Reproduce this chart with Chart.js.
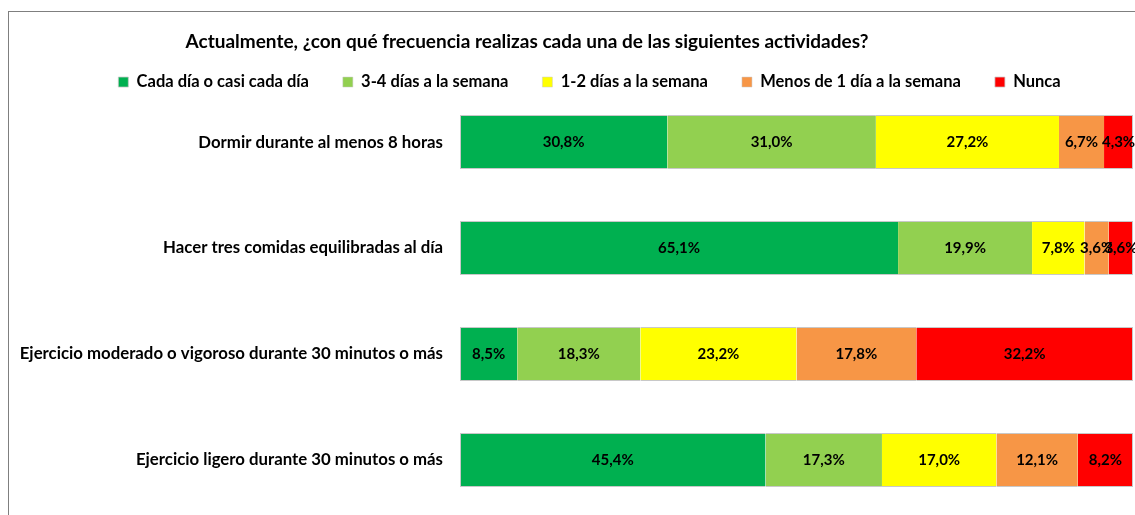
<!DOCTYPE html>
<html>
<head>
<meta charset="utf-8">
<script src="https://cdn.jsdelivr.net/npm/chart.js@4/dist/chart.umd.min.js"></script>
<style>
  html, body { margin: 0; padding: 0; background: #fff; }
  #wrap { position: relative; width: 1135px; height: 515px; }
  #frame { position: absolute; left: 8px; top: 11px; right: 0; bottom: 0; border-top: 1px solid #7f7f7f; border-left: 1px solid #7f7f7f; pointer-events: none; }
  canvas { position: absolute; left: 0; top: 0; }
</style>
</head>
<body>
<div id="wrap">
  <canvas id="c" width="1135" height="515"></canvas>
  <div id="frame"></div>
</div>
<script>
const titleText = 'Actualmente, ¿con qué frecuencia realizas cada una de las siguientes actividades?';
const categories = [
  'Dormir durante al menos 8 horas',
  'Hacer tres comidas equilibradas al día',
  'Ejercicio moderado o vigoroso durante 30 minutos o más',
  'Ejercicio ligero durante 30 minutos o más'
];
const seriesNames = ['Cada día o casi cada día', '3-4 días a la semana', '1-2 días a la semana', 'Menos de 1 día a la semana', 'Nunca'];
const cadaDia    = [30.8, 65.1, 8.5, 45.4];
const tresCuatro = [31.0, 19.9, 18.3, 17.3];
const unoDos     = [27.2, 7.8, 23.2, 17.0];
const menosUno   = [6.7, 3.6, 17.8, 12.1];
const nunca      = [4.3, 3.6, 32.2, 8.2];
const seriesValues = [cadaDia, tresCuatro, unoDos, menosUno, nunca];
const colors = ['#00B050', '#92D050', '#FFFF00', '#F79646', '#FF0000'];

const FONT = 'Lato, "Open Sans", sans-serif';

const datasets = seriesValues.map((vals, i) => ({
  label: seriesNames[i],
  data: vals,
  backgroundColor: colors[i],
  borderColor: '#c8c8c8',
  borderSkipped: false,
  borderWidth: {
    top: 1, bottom: 1,
    left: i === 0 ? 1 : 0,
    right: i === seriesValues.length - 1 ? 1 : 0
  },
  barPercentage: 0.51,
  categoryPercentage: 1.0
}));

const valueLabels = {
  id: 'valueLabels',
  afterDatasetsDraw(chart) {
    const ctx = chart.ctx;
    ctx.save();
    ctx.font = 'bold 15px ' + FONT;
    ctx.fillStyle = '#000';
    ctx.textAlign = 'center';
    ctx.textBaseline = 'middle';
    chart.data.datasets.forEach((ds, di) => {
      const meta = chart.getDatasetMeta(di);
      meta.data.forEach((bar, idx) => {
        const v = ds.data[idx];
        const p = bar.getProps(['x', 'y', 'base'], true);
        const cx = (p.x + p.base) / 2;
        ctx.fillText(v.toFixed(1).replace('.', ',') + '%', cx, p.y);
      });
    });
    ctx.restore();
  }
};

// shift the title and legend blocks horizontally to match the original's centring
const headerShift = {
  id: 'headerShift',
  afterLayout(chart) {
    if (chart.titleBlock) {
      chart.titleBlock.left = 0;
      chart.titleBlock.right = 1054;
    }
    if (chart.legend) {
      chart.legend.left += 23;
      chart.legend.right += 23;
    }
  }
};

new Chart(document.getElementById('c'), {
  type: 'bar',
  data: { labels: categories, datasets },
  options: {
    indexAxis: 'y',
    responsive: false,
    animation: false,
    layout: { padding: { top: 0, right: 2, left: 0, bottom: 2 } },
    plugins: {
      title: {
        display: true,
        text: titleText,
        color: '#000',
        font: { family: FONT, size: 19, weight: 'bold' },
        padding: { top: 30.6, bottom: -13.6 }
      },
      legend: {
        display: true,
        position: 'top',
        maxHeight: 49.3,
        labels: {
          color: '#000',
          font: { family: FONT, size: 16.5, weight: 'bold' },
          boxWidth: 10,
          boxHeight: 10,
          padding: 34
        }
      },
      tooltip: { enabled: false }
    },
    scales: {
      x: {
        stacked: true,
        min: 0,
        max: 100,
        display: false
      },
      y: {
        stacked: true,
        grid: { display: false, drawTicks: false },
        border: { display: false },
        ticks: {
          color: '#000',
          padding: 17,
          font: { family: FONT, size: 16.8, weight: 'bold' }
        },
        afterFit(scale) {
          scale.width = 460;
          scale.paddingTop = 0;
          scale.paddingBottom = 0;
        }
      }
    }
  },
  plugins: [valueLabels, headerShift]
});
</script>
</body>
</html>
